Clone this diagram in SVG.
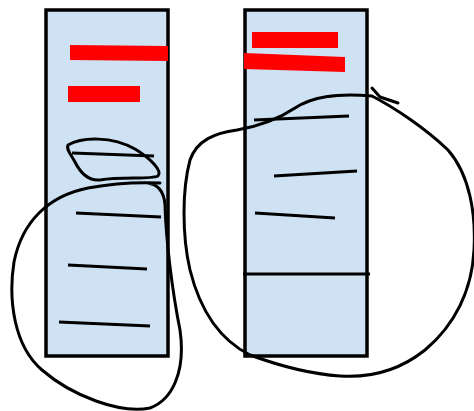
<svg xmlns="http://www.w3.org/2000/svg" width="474" height="411" viewBox="0 0 474 411">
<style>
.box{fill:#cfe2f3;stroke:#000;stroke-width:3.5}
.bar{fill:#ff0000}
.ln{stroke:#000;stroke-width:3;fill:none;stroke-linecap:butt}
.loop{stroke:#000;stroke-width:3;fill:none;stroke-linecap:round;stroke-linejoin:round}
</style>
<rect width="474" height="411" fill="#fff"/>
<g id="left-card">
<rect class="box" x="46" y="10" width="122" height="346"/>
<polygon class="bar" points="70,45 168,46 168,61 70,60"/>
<rect class="bar" x="68" y="86" width="72" height="16"/>
<line class="ln" x1="72" y1="153" x2="154" y2="156"/>
<line class="ln" x1="76" y1="213" x2="161" y2="217"/>
<line class="ln" x1="68" y1="265" x2="147" y2="269"/>
<line class="ln" x1="59" y1="322" x2="150" y2="326"/>
</g>
<g id="right-card">
<rect class="box" x="245" y="10" width="122" height="346"/>
<rect class="bar" x="252" y="32" width="86" height="16"/>
<polygon class="bar" points="244,53 345,57 345,72 244,69"/>
<line class="ln" x1="254" y1="120" x2="349" y2="116"/>
<line class="ln" x1="274" y1="176" x2="357" y2="171"/>
<line class="ln" x1="255" y1="213" x2="335" y2="218"/>
<line class="ln" x1="243" y1="274" x2="370" y2="274"/>
</g>
<g id="sketch-strokes">
<path class="loop" d="M 68,145 C 82,137 112,136 135,149 C 150,158 163,171 158,176 C 150,180 122,176 100,180 C 88,181 80,172 75,162 C 70,153 66,149 68,145 Z"/>
<path class="loop" d="M 147,183 C 157,184 164,190 165,205 C 166,240 172,290 180,330 C 186,372 172,400 150,408 C 120,414 72,396 42,370 C 14,346 8,300 14,262 C 22,222 48,196 88,188 C 115,183 140,182 160,183"/>
<path class="loop" d="M 372,88 L 380,97 L 398,103"/>
<path class="loop" d="M 372,96 C 395,108 425,128 448,150 C 470,175 476,215 474,250 C 472,290 455,325 425,350 C 400,370 370,378 340,376 C 310,374 280,366 250,355 C 220,340 200,310 190,270 C 182,235 182,190 190,160 C 197,140 215,133 237,130 C 260,126 280,118 295,108 C 312,97 335,93 372,96"/>
</g>
</svg>
